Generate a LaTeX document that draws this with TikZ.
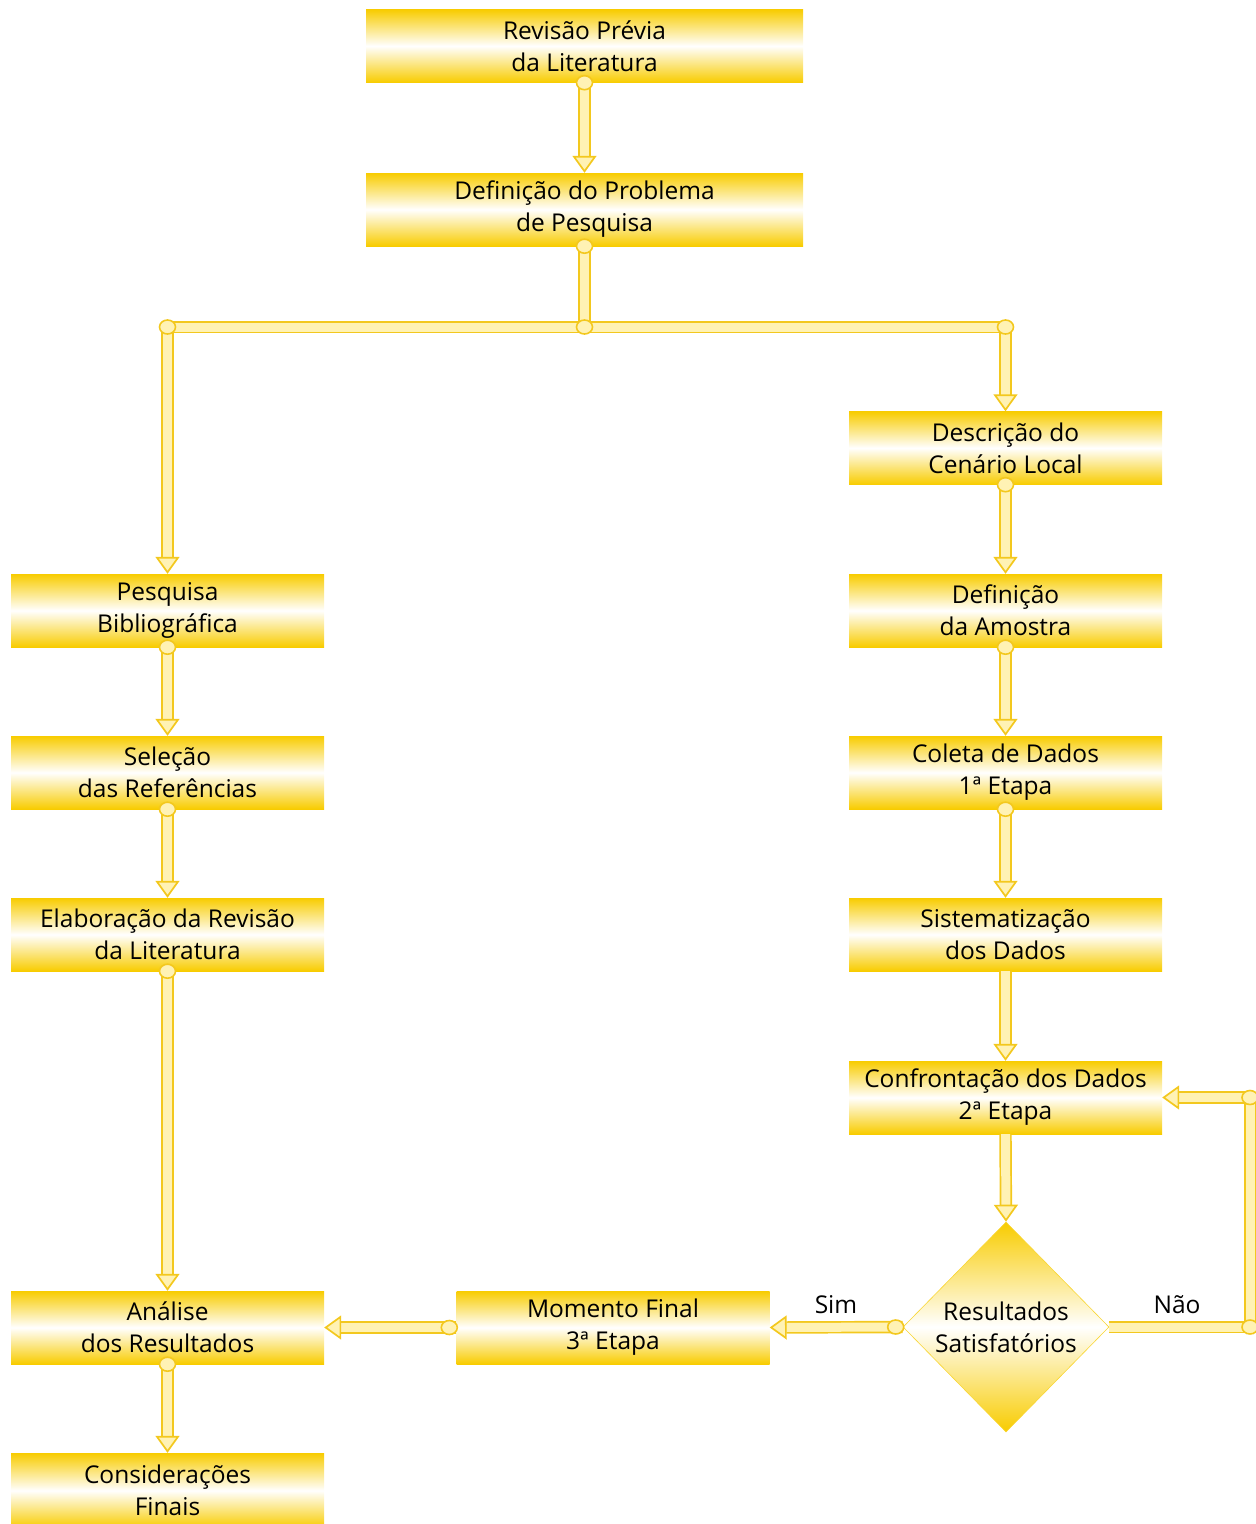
\documentclass[tikz,border=0pt]{standalone}
\usepackage{fontspec}
\setmainfont{Open Sans}
\usetikzlibrary{arrows.meta,shapes.geometric,positioning}
\definecolor{gold}{RGB}{248,204,0}
\definecolor{tubeedge}{RGB}{243,200,30}
\definecolor{tubefill}{RGB}{255,242,180}
\begin{document}
\begin{tikzpicture}[x=1pt,y=-1pt,
  box/.style={rectangle, minimum width=313pt, minimum height=73pt, inner sep=0pt,
    top color=gold, bottom color=gold, middle color=white, align=center,
    font=\fontsize{24.5}{32}\selectfont},
  dec/.style={diamond, minimum width=206pt, minimum height=210pt, inner sep=0pt, aspect=0.98,
    top color=gold, bottom color=gold, middle color=white, draw=gold!80, line width=0.6pt,
    align=center, font=\fontsize{24.5}{32}\selectfont},
  tube/.style={draw=tubeedge, line width=1.7pt, double=tubefill, double distance=9pt},
  tip/.style={-{Triangle[open, length=17pt, width=24pt, fill=tubefill]}},
  joint/.style={ellipse, draw=tubeedge, line width=1.6pt, fill=tubefill, minimum width=16pt, minimum height=14pt, inner sep=0pt},
  lbl/.style={font=\fontsize{24.5}{32}\selectfont}
]
\useasboundingbox (0,0) rectangle (1256,1524);

% boxes
\node[box, minimum width=437pt] (rev) at (584.5,46) {Revisão Prévia\\da Literatura};
\node[box, minimum width=437pt] (def) at (584.5,209.5) {Definição do Problema\\de Pesquisa};
\node[box] (desc) at (1005.5,448) {Descrição do\\Cenário Local};
\node[box] (pesq) at (167.5,610.5) {Pesquisa\\Bibliográfica};
\node[box] (amos) at (1005.5,610.5) {Definição\\da Amostra};
\node[box] (sel) at (167.5,772.5) {Seleção\\das Referências};
\node[box] (col) at (1005.5,772.5) {Coleta de Dados\\1ª Etapa};
\node[box] (elab) at (167.5,934.5) {Elaboração da Revisão\\da Literatura};
\node[box] (sist) at (1005.5,934.5) {Sistematização\\dos Dados};
\node[box] (conf) at (1005.5,1097.5) {Confrontação dos Dados\\2ª Etapa};
\node[box] (anal) at (167.5,1327.5) {Análise\\dos Resultados};
\node[box] (mom) at (613,1327.5) {Momento Final\\3ª Etapa};
\node[box, minimum height=75pt] (cons) at (167.5,1490.5) {Considerações\\Finais};
\node[dec] (res) at (1006,1327) {Resultados\\Satisfatórios};

% junction coordinates
\coordinate (jm) at (584.5,327);
\coordinate (jl) at (167.5,327);
\coordinate (jr) at (1005.5,327);
\coordinate (lb) at (1250,1327);
\coordinate (lt) at (1250,1097.5);

% connectors
\draw[tube, tip] (rev.south) -- (def.north);
\draw[tube] (def.south) -- (jm);
\draw[tube] (jl) -- (jr);
\draw[tube, tip] (jl) -- (pesq.north);
\draw[tube, tip] (jr) -- (desc.north);
\draw[tube, tip] (desc.south) -- (amos.north);
\draw[tube, tip] (amos.south) -- (col.north);
\draw[tube, tip] (col.south) -- (sist.north);
\draw[tube, tip] (sist.south) -- (conf.north);
\draw[tube, tip] (conf.south) -- (res.north);
\draw[tube, tip] (pesq.south) -- (sel.north);
\draw[tube, tip] (sel.south) -- (elab.north);
\draw[tube, tip] (elab.south) -- (anal.north);
\draw[tube, tip] (anal.south) -- (cons.north);
\draw[tube, tip] (mom.west) -- (anal.east);
\draw[tube, tip] (res.west) -- (mom.east);
\draw[tube] (res.east) -- (lb) -- (lt);
\draw[tube, tip] (lt) -- (conf.east);

% joints
\foreach \p in {rev.south, def.south, jm, jl, jr, desc.south, amos.south, col.south,
  pesq.south, sel.south, elab.south, anal.south, lb, lt}
  \node[joint] at (\p) {};
\node[joint] at ([xshift=-7pt]mom.west) {};
\node[joint] at ([xshift=-7pt]res.west) {};

% labels
\node[lbl] (sim) at (836,1305) {Sim};
\node[lbl] (nao) at (1177,1305) {Não};
\end{tikzpicture}
\end{document}
